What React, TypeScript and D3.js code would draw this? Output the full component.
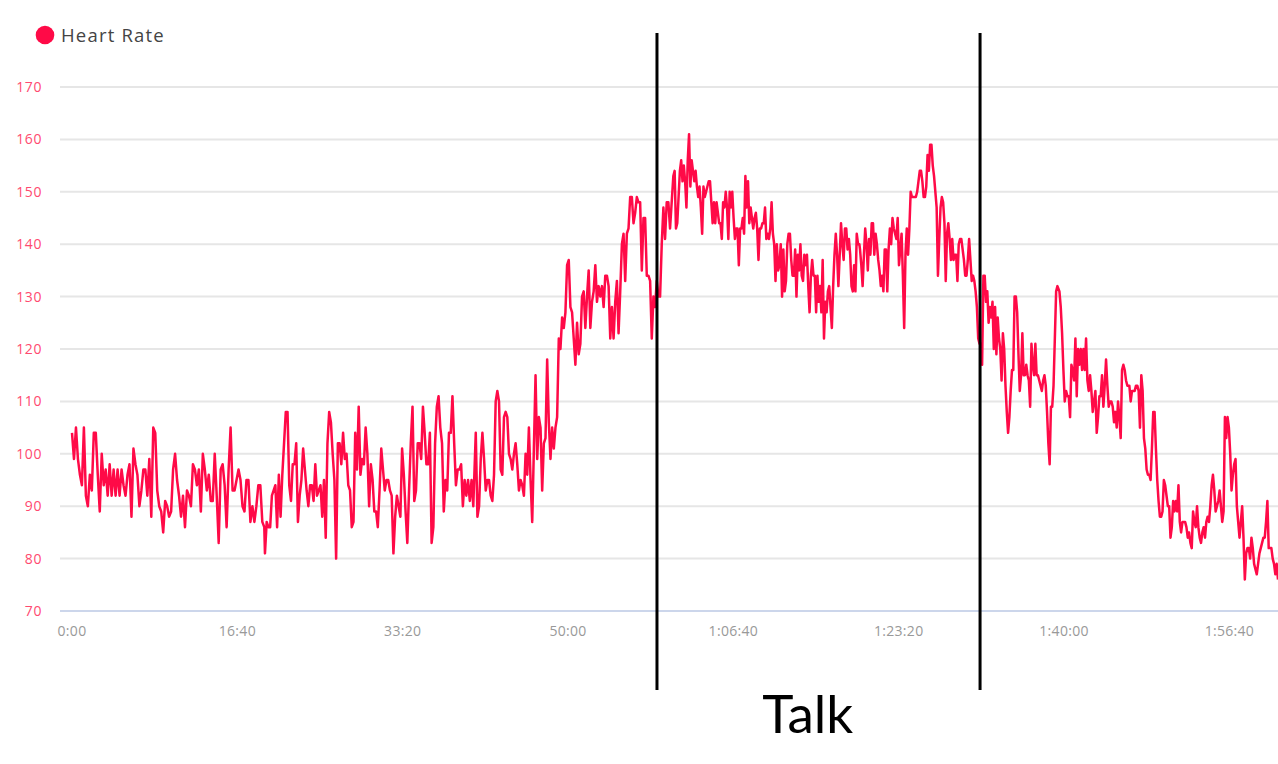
import React, { useEffect, useRef } from "react";
import * as d3 from "d3";

// ---- Data (heart rate in bpm, sampled over time) ----
// Each segment: [start seconds, end seconds] with readings evenly spread in between
const hrSeg1 = [104, 99, 105, 99, 96, 94, 105, 92, 90, 96, 93, 104, 104, 96, 89, 100, 94, 97, 92, 98, 92, 97, 92, 97, 92, 97, 94, 92, 96, 98, 88, 101, 98, 96, 90, 93, 97, 97, 92, 99, 88, 105, 104, 93, 90, 89, 85, 91, 90, 88, 89, 97, 100, 95, 92, 88, 92, 86, 93, 92, 90, 98, 97, 94, 97, 89, 100, 97, 93, 96, 91, 91, 100, 92, 83, 97, 98, 94, 86, 97, 105, 93, 93, 95, 97, 95, 90, 89, 95, 95, 87, 90, 87, 90, 94, 94, 87, 86];
const hrSeg2 = [81, 87, 86, 86, 92, 93, 94, 86, 96, 88, 96, 102, 108, 108, 94, 91, 98, 98, 102, 87, 92, 95, 101, 97, 93, 90, 94, 94, 91, 98, 92, 93, 94, 88, 95, 84, 102, 108, 106, 100, 95, 80, 102, 102, 98, 104, 99, 100, 94, 93, 86, 87, 104, 97, 109, 96, 99, 98, 105, 100, 90, 98, 95, 89, 89, 86, 93, 101, 97, 93, 95, 95, 93, 92, 81, 88, 92, 90, 88, 101, 96, 89, 83, 93, 102, 109, 91, 93, 102, 102, 99, 109, 104, 98, 98, 104, 83, 86, 102, 109, 111, 105, 102, 89, 95, 93, 104, 104, 111, 102, 94, 97, 97, 98, 90, 95, 92, 95, 91, 95, 90];
const hrSeg3 = [104, 88, 90, 99, 104, 99, 93, 95, 95, 92, 91, 96, 110, 112, 110, 97, 96, 107, 108, 107, 100, 99, 97, 100, 102, 98, 93, 95, 94, 92, 100, 96, 105, 95, 87, 101, 115, 99, 107, 105, 93, 102, 103, 118, 106, 99, 105, 101, 105, 107, 122, 120, 126, 124, 127, 136, 137, 128, 127, 122, 117, 125, 119, 121, 130, 131, 124, 130, 135, 124, 129, 131, 136, 129, 132, 130, 132, 128, 134, 134, 132, 122, 128, 122, 129, 133, 123, 131, 140, 142, 133, 142, 143, 149, 149, 144, 146, 149, 148, 148, 135, 145, 145, 134, 134, 133, 122, 130, 128, 133, 130, 130, 140, 147, 141, 148, 148, 143];
const hrSeg4 = [149, 153, 154, 143, 144, 149, 154, 156, 152, 155, 152, 147, 156, 161, 151, 156, 154, 152, 154, 151, 149, 151, 147, 142, 151, 149, 150, 151, 152, 152, 148, 144, 148, 144, 148, 146, 144, 144, 141, 148, 147, 150, 147, 141, 150, 147, 150, 145, 141, 143, 143, 136, 143, 143, 145, 142, 153, 147, 152, 144, 147, 145, 143, 145, 146, 143, 137, 143, 143, 144, 144, 147, 141, 142, 141, 143, 148, 142, 140, 133, 140, 135, 136, 140, 130, 139, 131, 133, 140, 142, 142, 137, 134, 134, 139, 130, 138, 135, 140, 134, 133, 138, 136, 138, 132, 127, 134, 137, 134, 134, 127, 134, 129, 132, 127, 137, 122, 129, 127, 131, 132, 128, 124, 132, 138, 142, 138, 132, 138, 144, 140, 137, 143, 143, 139, 141, 138, 132, 131, 136, 131, 142, 140, 140];
const hrSeg5 = [139, 136, 132, 138, 143, 140, 135, 141, 138, 144, 144, 138, 142, 140, 137, 135, 132, 134, 131, 139, 139, 131, 139, 143, 140, 145, 143, 142, 141, 145, 136, 139, 142, 134, 124, 138, 143, 138, 143, 150, 149, 149, 149, 149, 150, 152, 154, 154, 152, 149, 149, 151, 157, 154, 159, 159, 155, 153, 150, 147, 134, 141, 147, 149, 148, 144, 133, 142, 144, 141, 137, 141, 137, 138, 138, 133, 140, 141, 141, 139, 137, 134, 134, 137, 141, 137, 133, 134, 133, 131, 128, 122, 121, 121, 117, 134, 134, 129, 131, 125, 128, 126, 129, 120, 128, 119, 126, 122, 120, 114, 123, 120, 113, 108, 104, 107, 112, 116, 116, 130, 130, 127, 119, 112, 115, 123, 115, 115, 117, 115, 114, 109, 121, 117, 115, 121, 115, 115, 114, 113, 112, 114, 115, 113, 108, 102, 98, 109, 109, 113, 122, 131, 132];
const hrSeg6 = [131, 128, 123, 116, 110, 112, 111, 111, 107, 117, 116, 114, 122, 111, 120, 117, 120, 116, 120, 116, 122, 114, 112, 115, 112, 108, 110, 112, 104, 107, 111, 111, 115, 109, 113, 118, 113, 109, 110, 110, 109, 106, 108, 105, 110, 107, 103, 116, 117, 116, 114, 113, 113];
const hrSeg7 = [113, 110, 112, 112, 112, 113, 113, 112, 105, 115, 112, 103, 101, 97, 96, 96, 95, 101, 108, 108, 101, 95, 91, 88, 88, 89, 95, 94, 92, 90, 90, 84, 86, 91, 89, 91, 89, 94, 87, 85, 87, 87, 87, 86, 84, 85, 83, 82, 89, 87, 86, 90, 86, 84, 83, 85, 86, 84, 87, 88, 87, 90, 94, 96, 93, 89, 90, 91, 93, 90, 87, 89, 107, 103, 107, 105, 100, 93, 96, 98, 99, 90, 87, 84, 87, 90, 84, 76, 81, 82, 82, 80, 84, 82, 79, 78, 77, 79, 81, 82, 83, 84, 84, 87, 91, 82, 82, 82, 80, 79, 77, 79, 76];

const segmentSeries = [hrSeg1, hrSeg2, hrSeg3, hrSeg4, hrSeg5, hrSeg6, hrSeg7];
const segmentTimes = [
  [0, 1163],
  [1167, 2427],
  [2442, 3617],
  [3629, 4762],
  [4766, 5960],
  [5972, 6391],
  [6395, 7294],
];

const yTicks = [70, 80, 90, 100, 110, 120, 130, 140, 150, 160, 170];
const xTicks = [0, 1000, 2000, 3000, 4000, 5000, 6000, 7000];
const talkStart = 3538;
const talkEnd = 5492;
const talkLabelTime = 4450;
const seriesName = "Heart Rate";
const talkLabel = "Talk";

const W = 1278;
const H = 764;
const RED = "#ff0a47";

function fmtTime(t: number): string {
  const h = Math.floor(t / 3600);
  const m = Math.floor((t % 3600) / 60);
  const s = Math.floor(t % 60);
  const p = (n: number) => String(n).padStart(2, "0");
  return h > 0 ? `${h}:${p(m)}:${p(s)}` : `${m}:${p(s)}`;
}

export default function App() {
  const ref = useRef<SVGSVGElement>(null);

  useEffect(() => {
    document.body.style.margin = "0";
    const svg = d3.select(ref.current);
    svg.selectAll("*").remove();

    const x = d3.scaleLinear().domain([0, 7294]).range([72, 1278]);
    const y = d3.scaleLinear().domain([70, 170]).range([611, 87]);

    const points: [number, number][] = [];
    segmentSeries.forEach((vals, si) => {
      const [t0, t1] = segmentTimes[si];
      const n = vals.length;
      vals.forEach((v, i) => {
        const t = n > 1 ? t0 + ((t1 - t0) * i) / (n - 1) : t0;
        points.push([t, v]);
      });
    });

    // gridlines
    const grid = svg.append("g");
    yTicks.forEach((v) => {
      grid
        .append("line")
        .attr("x1", 60)
        .attr("x2", W)
        .attr("y1", y(v))
        .attr("y2", y(v))
        .attr("stroke", v === 70 ? "#ccd6eb" : "#e6e6e6")
        .attr("stroke-width", 2);
    });

    // y labels
    const yl = svg.append("g");
    yTicks.forEach((v) => {
      yl.append("text")
        .attr("x", 42)
        .attr("y", y(v) + 5)
        .attr("text-anchor", "end")
        .attr("font-family", "'Open Sans', sans-serif")
        .attr("font-size", 14)
        .attr("letter-spacing", 0.6)
        .attr("fill", "#ff4a70")
        .text(String(v));
    });

    // x labels
    const xl = svg.append("g");
    xTicks.forEach((t) => {
      xl.append("text")
        .attr("x", x(t))
        .attr("y", 636)
        .attr("text-anchor", "middle")
        .attr("font-family", "'Open Sans', sans-serif")
        .attr("font-size", 14)
        .attr("letter-spacing", 0.3)
        .attr("fill", "#999")
        .text(fmtTime(t));
    });

    // line
    const line = d3
      .line<[number, number]>()
      .x((d) => x(d[0]))
      .y((d) => y(d[1]))
      .curve(d3.curveLinear);
    svg
      .append("path")
      .datum(points)
      .attr("d", line)
      .attr("fill", "none")
      .attr("stroke", RED)
      .attr("stroke-width", 2.5)
      .attr("stroke-linejoin", "round");

    // legend
    svg.append("circle").attr("cx", 45).attr("cy", 35).attr("r", 9.3).attr("fill", RED);
    svg
      .append("text")
      .attr("x", 61)
      .attr("y", 42)
      .attr("font-family", "'Open Sans', sans-serif")
      .attr("font-size", 18.5)
      .attr("letter-spacing", 1.2)
      .attr("fill", "#444")
      .text(seriesName);

    // talk annotation
    [talkStart, talkEnd].forEach((t) => {
      svg
        .append("line")
        .attr("x1", x(t))
        .attr("x2", x(t))
        .attr("y1", 33)
        .attr("y2", 690)
        .attr("stroke", "#000")
        .attr("stroke-width", 3);
    });
    svg
      .append("text")
      .attr("x", x(talkLabelTime))
      .attr("y", 733)
      .attr("text-anchor", "middle")
      .attr("font-family", "Lato, sans-serif")
      .attr("font-size", 53)
      .attr("fill", "#000")
      .text(talkLabel);
  }, []);

  return (
    <svg
      ref={ref}
      width={W}
      height={H}
      style={{ position: "absolute", left: 0, top: 0, background: "#fff" }}
    />
  );
}
